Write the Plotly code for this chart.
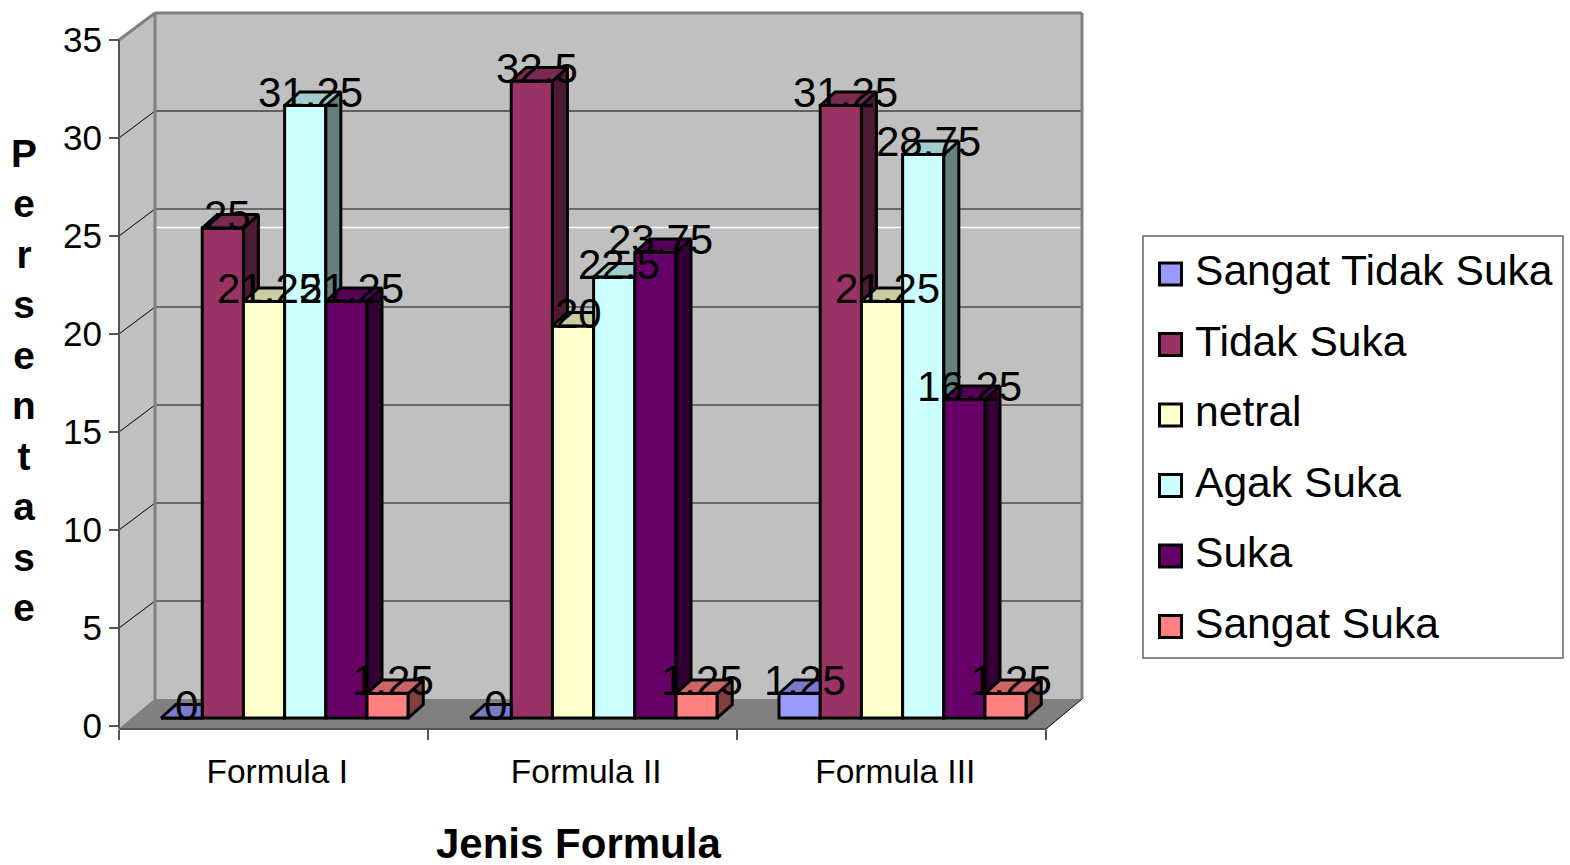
import plotly.graph_objects as go

# Survey results per formula, in percent
categories = ["Formula I", "Formula II", "Formula III"]
series_names = ["Sangat Tidak Suka", "Tidak Suka", "netral", "Agak Suka", "Suka", "Sangat Suka"]
sangat_tidak_suka = [0, 0, 1.25]
tidak_suka = [25, 32.5, 31.25]
netral = [21.25, 20, 21.25]
agak_suka = [31.25, 22.5, 28.75]
suka = [21.25, 23.75, 16.25]
sangat_suka = [1.25, 1.25, 1.25]
series_values = [sangat_tidak_suka, tidak_suka, netral, agak_suka, suka, sangat_suka]
series_colors = ["#9999FF", "#993366", "#FFFFCC", "#CCFFFF", "#660066", "#FF8080"]
y_ticks = [0, 5, 10, 15, 20, 25, 30, 35]

W, H = 1570, 865
FONT = "Liberation Sans"

# Pixel layout of the plot frame
PX_PER_CAT = 309.0
PX_PER_UNIT = 19.6
AXIS_X = 119.0
ZERO_Y = 726.0
PLOT_LEFT, PLOT_RIGHT = 100.0, 1095.0
PLOT_TOP, PLOT_BOTTOM = 4.0, 736.0
EDGE = 3


def px_x(dx):
    return dx / PX_PER_CAT


def px_y(dy):
    return dy / PX_PER_UNIT


def paper_x(px):
    return px / W


def paper_y(px):
    return 1 - px / H


# Oblique projection offsets, in data units
WALL_DX, WALL_DY = px_x(36), px_y(27)
FLOOR_FRONT = px_y(-3)
BAR_LIFT = px_y(8)
BAR_DX, BAR_DY = px_x(15), px_y(13.5)
GROUP_SHIFT = 0.036
GROUP_WIDTH = 0.8
BAR_WIDTH = GROUP_WIDTH / len(series_names)
N = len(categories)
WALL_TOP = 35
STRAY_LINE_LEVEL = 24.05


def shade(hex_color, factor):
    rgb = [int(hex_color[i:i + 2], 16) for i in (1, 3, 5)]
    return "#" + "".join(f"{round(c * factor):02X}" for c in rgb)


def path(points):
    return "M" + " L".join(f"{x},{y}" for x, y in points) + " Z"


shapes = []
annotations = []


def add_poly(points, fill):
    shapes.append(dict(type="path", path=path(points), fillcolor=fill,
                       line=dict(width=0), layer="below", xref="x", yref="y"))


def add_line(p0, p1, color, width):
    shapes.append(dict(type="line", x0=p0[0], y0=p0[1], x1=p1[0], y1=p1[1],
                       line=dict(color=color, width=width), layer="below",
                       xref="x", yref="y"))


# Walls and floor
wall_top_y = WALL_TOP + WALL_DY
add_poly([(WALL_DX, WALL_DY), (N + WALL_DX, WALL_DY), (N + WALL_DX, wall_top_y), (WALL_DX, wall_top_y)], "#C0C0C0")
add_poly([(0, FLOOR_FRONT), (WALL_DX, WALL_DY), (WALL_DX, wall_top_y), (0, WALL_TOP)], "#C0C0C0")
add_poly([(0, FLOOR_FRONT), (N, FLOOR_FRONT), (N + WALL_DX, WALL_DY), (WALL_DX, WALL_DY)], "#808080")

# Gridlines run across the back wall and down the side wall
for v in y_ticks[1:-1]:
    strong = v == 30
    add_line((WALL_DX, v + WALL_DY), (N + WALL_DX, v + WALL_DY),
             "#000000" if strong else "#4D4D4D", 1 if strong else 1.5)
for v in y_ticks[1:]:
    add_line((0, v), (WALL_DX, v + WALL_DY), "#000000", 1)
add_line((WALL_DX, STRAY_LINE_LEVEL + WALL_DY), (N + WALL_DX, STRAY_LINE_LEVEL + WALL_DY), "#FFFFFF", 1.5)

# Frame edges
add_line((WALL_DX, WALL_DY), (WALL_DX, wall_top_y), "#808080", 3)
add_line((WALL_DX, wall_top_y), (N + WALL_DX, wall_top_y), "#808080", 3)
add_line((N + WALL_DX, WALL_DY), (N + WALL_DX, wall_top_y), "#808080", 3)
add_line((0, WALL_TOP), (WALL_DX, wall_top_y), "#808080", 3)
add_line((0, FLOOR_FRONT), (0, WALL_TOP), "#555555", 2)
add_line((0, FLOOR_FRONT), (N, FLOOR_FRONT), "#555555", 2)
add_line((N, FLOOR_FRONT), (N + WALL_DX, WALL_DY), "#000000", 1)
add_line((0, FLOOR_FRONT), (WALL_DX, WALL_DY), "#808080", 1)

fig = go.Figure()

# Front faces of the bars
centers = [i + 0.5 + GROUP_SHIFT for i in range(N)]
for name, values, color in zip(series_names, series_values, series_colors):
    fig.add_trace(go.Bar(
        x=centers, y=values, base=[BAR_LIFT] * N, name=name,
        marker=dict(color=color, line=dict(color="#000000", width=EDGE)),
        showlegend=False, hoverinfo="skip",
    ))

# Top and side faces: each is cut where the next bar along the row covers it.
# Value labels go in as annotations so they sit above every face.
n_series = len(series_names)
for s, (values, color) in enumerate(zip(series_values, series_colors)):
    top_x, top_y, side_x, side_y = [], [], [], []
    for c in range(N):
        left = centers[c] - GROUP_WIDTH / 2 + s * BAR_WIDTH
        right = left + BAR_WIDTH
        top = values[c] + BAR_LIFT
        nxt = series_values[s + 1][c] + BAR_LIFT if s + 1 < n_series else BAR_LIFT
        back = top + BAR_DY
        if nxt > top:
            top_x += [left, right, right, left + BAR_DX, left, None]
            top_y += [top, top, back, back, top, None]
        else:
            top_x += [left, right, right + BAR_DX, left + BAR_DX, left, None]
            top_y += [top, top, back, back, top, None]
            if nxt < top:
                side_x += [right, right + BAR_DX, right + BAR_DX, right, right, None]
                side_y += [top, back, nxt + BAR_DY, nxt, top, None]
        annotations.append(dict(text=f"{values[c]:g}", xref="x", yref="y",
                                x=(left + right) / 2 + px_x(5), y=top + px_y(13),
                                xanchor="center", yanchor="middle", showarrow=False,
                                font=dict(family=FONT, size=42, color="#000000")))
    fig.add_trace(go.Scatter(x=side_x, y=side_y, mode="lines", fill="toself",
                             fillcolor=shade(color, 0.5),
                             line=dict(color="#000000", width=EDGE),
                             showlegend=False, hoverinfo="skip"))
    fig.add_trace(go.Scatter(x=top_x, y=top_y, mode="lines", fill="toself",
                             fillcolor=shade(color, 0.8),
                             line=dict(color="#000000", width=EDGE),
                             showlegend=False, hoverinfo="skip"))

# Legend box, drawn to its own proportions
LEG_L, LEG_T, LEG_R, LEG_B = 1143, 236, 1563, 658
shapes.append(dict(type="rect", xref="paper", yref="paper",
                   x0=paper_x(LEG_L), x1=paper_x(LEG_R), y0=paper_y(LEG_B), y1=paper_y(LEG_T),
                   fillcolor="#FFFFFF", line=dict(color="#666666", width=1.5), layer="above"))
ROW0, ROW_STEP = 270.0, 70.5
for i, (name, color) in enumerate(zip(series_names, series_colors)):
    cy = ROW0 + i * ROW_STEP
    shapes.append(dict(type="rect", xref="paper", yref="paper",
                       x0=paper_x(1159.5), x1=paper_x(1181.5),
                       y0=paper_y(cy + 15), y1=paper_y(cy - 7),
                       fillcolor=color, line=dict(color="#000000", width=3), layer="above"))
    annotations.append(dict(text=name, xref="paper", yref="paper", x=paper_x(1193), y=paper_y(cy),
                            xanchor="left", yanchor="middle", showarrow=False,
                            font=dict(family=FONT, size=42.6, color="#000000")))

# Axis titles
annotations.append(dict(text="Jenis Formula", xref="paper", yref="paper", x=paper_x(578), y=paper_y(843),
                        xanchor="center", yanchor="middle", showarrow=False,
                        font=dict(family=FONT, size=42, color="#000000", weight="bold")))
annotations.append(dict(text="<br>".join("Persentase"), xref="paper", yref="paper", x=paper_x(24), y=paper_y(380),
                        xanchor="center", yanchor="middle", showarrow=False, align="center",
                        font=dict(family=FONT, size=38.8, color="#000000", weight="bold")))

fig.update_layout(
    width=W, height=H, autosize=False,
    margin=dict(l=0, r=0, t=0, b=0, pad=0, autoexpand=False),
    paper_bgcolor="#FFFFFF", plot_bgcolor="rgba(0,0,0,0)",
    barmode="group", bargap=1 - GROUP_WIDTH, bargroupgap=0,
    showlegend=False, shapes=shapes, annotations=annotations,
    xaxis=dict(
        domain=[paper_x(PLOT_LEFT), paper_x(PLOT_RIGHT)],
        range=[(PLOT_LEFT - AXIS_X) / PX_PER_CAT, (PLOT_RIGHT - AXIS_X) / PX_PER_CAT],
        anchor="free", position=paper_y(729), automargin=False,
        tickmode="array", tickvals=[i + 0.512 for i in range(N)], ticktext=categories,
        ticks="", showgrid=False, zeroline=False, showline=False,
        ticklabelstandoff=19,
        tickfont=dict(family=FONT, size=33.5, color="#000000"),
        minor=dict(tickmode="array", tickvals=list(range(N + 1)), ticks="outside", ticklen=10,
                   tickwidth=1.5, tickcolor="#555555", showgrid=False),
    ),
    yaxis=dict(
        domain=[paper_y(PLOT_BOTTOM), paper_y(PLOT_TOP)],
        range=[(ZERO_Y - PLOT_BOTTOM) / PX_PER_UNIT, (ZERO_Y - PLOT_TOP) / PX_PER_UNIT],
        anchor="free", position=paper_x(AXIS_X), automargin=False,
        tickmode="array", tickvals=y_ticks, ticks="outside", ticklen=10,
        tickwidth=1.5, tickcolor="#555555", showgrid=False, zeroline=False, showline=False,
        tickfont=dict(family=FONT, size=35, color="#000000"),
    ),
)

fig.write_html("out.html")
